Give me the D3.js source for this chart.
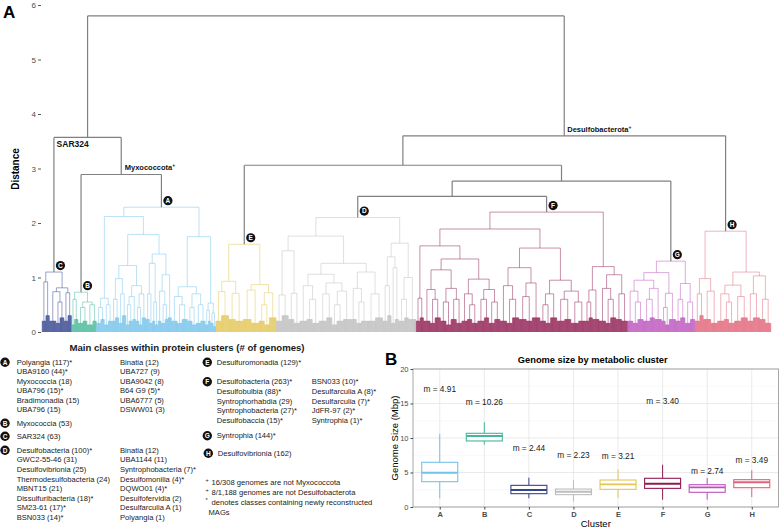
<!DOCTYPE html>
<html>
<head>
<meta charset="utf-8">
<script src="https://cdn.jsdelivr.net/npm/d3@7"></script>
<style>
  body { margin: 0; background: #fff; }
  svg { font-family: "Liberation Sans", Arial, sans-serif; }
</style>
</head>
<body>
<svg id="chart" width="779" height="528"></svg>
<script>
// ---------- data ----------
var clusters = ["A", "B", "C", "D", "E", "F", "G", "H"];
var clusterColors = ["#74c3ea", "#45b89a", "#34448f", "#bdbdbd", "#e3c556", "#8f1c51", "#bc52bd", "#e06478"];

// dendrogram. "(x,y)h" joins at height h,
// "n:h" is a clade of n genomes joined at height h, names point to other entries
var skeleton = "((C,(B,A)2.89)3.57,((E,((D,F)2.49,G)2.77)3.06,H)3.6)5.8";
var treeParts = {
  C: "((8:0.2,8:0.3)0.92,((14:0.2,(8:0.16,9:0.26)0.55)0.74,(8:0.2,8:0.3)0.72)0.81)1.1",
  B: "((6:0.13,8:0.23)0.6,((10:0.16,9:0.2)0.45,(12:0.13,8:0.2)0.5)0.55)0.73",
  A: "((AL1,(AL2a,AL2b)1.79)2.12,(AR1,AR2)1.75)2.29",
  AL1: "((9:0.16,8:0.23)0.45,(8:0.13,8:0.2)0.5)0.62",
  AL2a: "(((7:0.2,8:0.26)0.6,(7:0.16,8:0.3)0.7)0.98,(((6:0.13,8:0.2)0.5,7:0.23)0.65,((7:0.2,6:0.13)0.45,8:0.26)0.7)0.85)1.22",
  AL2b: "(((8:0.23,6:0.16)0.7,(6:0.2,6:0.13)0.55)1.26,((7:0.2,(8:0.16,6:0.23)0.5)0.75,8:0.26)1.05)1.43",
  AR1: "((12:0.2,(10:0.16,12:0.23)0.5)0.65,((10:0.2,8:0.13)0.45,(10:0.16,10:0.2)0.5)0.7)0.83",
  AR2: "((6:0.13,5:0.2)0.4,(6:0.16,5:0.1)0.35)0.53",
  E: "(((12:0.2,16:0.3)0.74,(14:0.23,16:0.2)0.71)0.93,((18:0.23,16:0.16)0.77,((12:0.2,10:0.13)0.5,15:0.26)0.72)0.87)1.61",
  D: "((DLa,(Db1,Db2)1.26)1.76,(Dr1,Dr2)1.63)2.1",
  DLa: "((12:0.2,14:0.3)0.68,(12:0.23,12:0.16)0.71)1.49",
  Db1: "((15:0.2,(12:0.23,14:0.16)0.6)0.85,((16:0.2,12:0.26)0.7,((10:0.13,14:0.2)0.5,14:0.23)0.75)0.9)1.06",
  Db2: "((14:0.23,(10:0.16,12:0.2)0.55)0.8,(18:0.2,16:0.26)0.7)1.1",
  Dr1: "((10:0.2,8:0.3)0.85,(8:0.16,8:0.23)1.18)1.38",
  Dr2: "((12:0.2,9:0.26)0.6,16:0.23)1.0",
  F: "(((Fa1,(Fa2a,Fa2b)1.34)1.58,(Fb1,Fb2)1.54)1.89,(Fr1,Fr2)1.2)2.2",
  Fa1: "(8:0.2,8:0.26)0.62",
  Fa2a: "((14:0.2,(10:0.16,12:0.26)0.6)0.78,((12:0.2,10:0.13)0.55,(12:0.23,11:0.16)0.6)0.8)1.14",
  Fa2b: "((12:0.2,(10:0.23,12:0.16)0.5)0.7,((14:0.2,10:0.26)0.6,(12:0.16,12:0.23)0.55)0.78)0.97",
  Fb1: "((14:0.2,(12:0.16,14:0.26)0.6)0.85,((16:0.23,12:0.2)0.65,17:0.26)0.9)1.18",
  Fb2: "(((12:0.2,10:0.16)0.5,14:0.26)0.7,((16:0.2,14:0.23)0.6,(16:0.16,14:0.2)0.55)0.75)0.95",
  Fr1: "((8:0.2,8:0.26)0.55,14:0.23)0.77",
  Fr2: "((14:0.2,(10:0.16,12:0.26)0.6)0.8,(12:0.23,12:0.2)0.7)1.05",
  G: "((((12:0.2,(10:0.16,12:0.23)0.55)0.75,((14:0.2,10:0.26)0.6,15:0.23)0.8)0.95,((8:0.2,8:0.13)0.45,14:0.23)0.71)1.09,((10:0.2,10:0.26)0.6,(11:0.16,10:0.23)0.55)0.89)1.3",
  H: "(((10:0.2,8:0.3)0.7,(16:0.23,14:0.16)0.75)0.98,(((14:0.2,(10:0.23,12:0.16)0.55)0.7,(14:0.2,14:0.26)0.65)0.86,((12:0.2,14:0.26)0.7,(12:0.23,12:0.16)0.6)1.03)1.1)1.85"
};
var distTicks = [0, 1, 2, 3, 4, 5, 6];

// legend of panel A
var legendTitle = "Main classes within protein clusters (# of genomes)";
var legendA = [["Polyangia (117)*", "UBA9160 (44)*", "Myxococcia (18)", "UBA796 (15)*", "Bradimonadia (15)", "UBA796 (15)"],
               ["Binatia (12)", "UBA727 (9)", "UBA9042 (8)", "B64 G9 (5)*", "UBA6777 (5)", "DSWW01 (3)"]];
var legendB = [["Myxococcia (53)"]];
var legendC = [["SAR324 (63)"]];
var legendD = [["Desulfobacteria (100)*", "GWC2-55-46 (31)", "Desulfovibrionia (25)", "Thermodesulfobacteria (24)", "MBNT15 (21)", "Dissulfuribacteria (18)*", "SM23-61 (17)*", "BSN033 (14)*"],
               ["Binatia (12)", "UBA1144 (11)", "Syntrophobacteria (7)*", "Desulfomonilia (4)*", "DQWO01 (4)*", "Desulfofervidia (2)", "Desulfarculia A (1)", "Polyangia (1)"]];
var legendE = [["Desulfuromonadia (129)*"]];
var legendF = [["Desulfobacteria (263)*", "Desulfobulbia (88)*", "Syntrophorhabdia (29)", "Syntrophobacteria (27)*", "Desulfobaccia (15)*"],
               ["BSN033 (10)*", "Desulfarculia A (8)*", "Desulfarculia (7)*", "JdFR-97 (2)*", "Syntrophia (1)*"]];
var legendG = [["Syntrophia (144)*"]];
var legendH = [["Desulfovibrionia (162)"]];
var footMarks = ["+", "+", "*", ""];
var footNotes = ["16/308 genomes are not Myxococcota", "8/1,188 genomes are not Desulfobacterota",
                 "denotes classes containing newly reconstructed", "MAGs"];

// panel B, genome size (Mbp)
var boxLow  = [1.26, 9.03, 1.26, 0.77, 1.35, 1.06, 1.06, 1.45];
var boxQ1   = [3.67, 9.57, 1.93, 1.79, 2.56, 2.70, 2.13, 2.80];
var boxMed  = [4.97, 10.29, 2.46, 2.22, 3.28, 3.38, 2.85, 3.58];
var boxQ3   = [6.48, 10.68, 3.14, 2.60, 3.91, 4.16, 3.23, 3.96];
var boxHigh = [10.58, 12.30, 4.25, 3.86, 5.46, 6.13, 4.20, 5.32];
var meanLabels = ["m = 4.91", "m = 10.26", "m = 2.44", "m = 2.23", "m = 3.21", "m = 3.40", "m = 2.74", "m = 3.49"];
var meanLabelY = [17.1, 15.2, 8.5, 7.5, 7.4, 15.4, 5.2, 6.8];
var sizeTicks = [0, 5, 10, 15, 20];
var sizeMinor = [2.5, 7.5, 12.5, 17.5];

// ---------- helpers ----------
var color = d3.scaleOrdinal().domain(clusters).range(clusterColors);
var svg = d3.select("#chart");

function parseTree(src) {
  var s = src.replace(/\s+/g, ""), i = 0;
  function num() { var m = /^[\d.]+/.exec(s.slice(i)); i += m[0].length; return +m[0]; }
  function node() {
    if (s[i] === "(") {
      i++;
      var kids = [node()];
      while (s[i] === ",") { i++; kids.push(node()); }
      i++;
      return { h: num(), children: kids };
    }
    var id = /^[A-Za-z]\w*/.exec(s.slice(i));
    if (id) {
      i += id[0].length;
      var sub = parseTree(treeParts[id[0]]);
      if (clusters.indexOf(id[0]) >= 0) sub.cluster = id[0];
      return sub;
    }
    var n = num(); i++; var h = num();
    return { h: h, children: d3.range(n).map(function () { return { h: 0 }; }) };
  }
  return node();
}

function badge(g, x, y, letter, r) {
  g.append("circle").attr("cx", x).attr("cy", y).attr("r", r || 4.6).attr("fill", "#111");
  g.append("text").attr("x", x).attr("y", y).attr("dy", "0.36em")
    .attr("text-anchor", "middle").attr("font-size", 6.5).attr("font-weight", "bold")
    .attr("fill", "#fff").text(letter);
}

// ---------- panel A: dendrogram ----------
var yD = d3.scaleLinear().domain([0, 6]).range([332, 5]);
var root = d3.hierarchy(parseTree(skeleton));
d3.cluster().size([729, 1]).separation(function () { return 1; })(root);
root.each(function (d) {
  d.px = 42 + d.x;
  d.py = yD(d.data.h);
  d.cl = d.data.cluster || (d.parent ? d.parent.cl : null);
});

var segs = [];
root.each(function (d) {
  if (!d.children) return;
  var xs = d.children.map(function (c) { return c.px; });
  segs.push({ x1: d3.min(xs), x2: d3.max(xs), y1: d.py, y2: d.py, cl: d.cl, leaf: false });
  d.children.forEach(function (c) {
    segs.push({ x1: c.px, x2: c.px, y1: d.py, y2: c.py, cl: d.cl, leaf: !c.children });
  });
});

var gDend = svg.append("g");
gDend.selectAll("line.cl")
  .data(segs.filter(function (s) { return s.cl; }))
  .enter().append("line")
  .attr("class", "cl")
  .attr("x1", function (s) { return s.x1; }).attr("x2", function (s) { return s.x2; })
  .attr("y1", function (s) { return s.y1; }).attr("y2", function (s) { return s.y2; })
  .attr("stroke", function (s) { return color(s.cl); })
  .attr("stroke-width", function (s) { return s.leaf ? 0.7 : 0.9; })
  .attr("stroke-opacity", function (s) { return s.leaf ? 0.85 : 0.55; });

gDend.selectAll("line.sk")
  .data(segs.filter(function (s) { return !s.cl; }))
  .enter().append("line")
  .attr("class", "sk")
  .attr("x1", function (s) { return s.x1; }).attr("x2", function (s) { return s.x2; })
  .attr("y1", function (s) { return s.y1; }).attr("y2", function (s) { return s.y2; })
  .attr("stroke", "#808080")
  .attr("stroke-width", 1.2);

// cluster badges
root.each(function (d) {
  if (d.data.cluster) badge(gDend, d.px + 6.5, d.py - 6.5, d.data.cluster);
});

// clade labels
function cladeLabel(node, dx, dy, name, size, plus) {
  var t = gDend.append("text").attr("x", node.px + dx).attr("y", node.py + dy)
    .attr("font-size", size).attr("font-weight", "bold").attr("fill", "#111").text(name);
  if (plus) t.append("tspan").attr("font-size", 5).attr("dy", -3).text("+");
}
var sarMyxo = root.children[0], myxo = sarMyxo.children[1], desulfo = root.children[1];
cladeLabel(sarMyxo, -31, 10, "SAR324", 8.5, false);
cladeLabel(myxo, 3.5, -4, "Myxococcota", 7.5, true);
cladeLabel(desulfo, 3, -3.5, "Desulfobacterota", 7.5, true);

// y axis
var axA = svg.append("g").attr("transform", "translate(41,0)")
  .call(d3.axisLeft(yD).tickValues(distTicks).tickSize(3).tickPadding(2).tickFormat(d3.format("d")));
axA.select(".domain").remove();
axA.selectAll("line").attr("stroke", "#555");
axA.selectAll("text").attr("font-size", 8).attr("fill", "#4d4d4d").attr("font-family", "Liberation Sans, Arial, sans-serif");

svg.append("text").attr("transform", "translate(19,169) rotate(-90)")
  .attr("text-anchor", "middle").attr("font-size", 10).attr("font-weight", "bold").text("Distance");
svg.append("text").attr("x", 3).attr("y", 18).attr("font-size", 17).attr("font-weight", "bold").text("A");

// ---------- legend ----------
var gLeg = svg.append("g").attr("font-size", 7.6).attr("fill", "#1a1a1a");
gLeg.append("text").attr("x", 187).attr("y", 350.5).attr("text-anchor", "middle")
  .attr("font-size", 9.6).attr("font-weight", "bold").text(legendTitle);

function legendBlock(letter, bx, by, cols, colX, lineH) {
  badge(gLeg, bx, by, letter, 4.7);
  cols.forEach(function (col, ci) {
    col.forEach(function (txt, li) {
      gLeg.append("text").attr("x", colX[ci]).attr("y", by + li * lineH).attr("dy", "0.35em").text(txt);
    });
  });
}
legendBlock("A", 5, 362.3, legendA, [16.7, 120], 9.5);
legendBlock("B", 5, 423.3, legendB, [16.7], 9.5);
legendBlock("C", 5, 436.3, legendC, [16.7], 9.5);
legendBlock("D", 5, 450.3, legendD, [16.7, 120], 9.52);
legendBlock("E", 207.3, 362.3, legendE, [216.7], 9.6);
legendBlock("F", 207.3, 381.7, legendF, [216.7, 311.7], 9.65);
legendBlock("G", 207.3, 435.7, legendG, [216.7], 9.6);
legendBlock("H", 208.3, 453.3, legendH, [217.7], 9.6);

footNotes.forEach(function (txt, i) {
  var y = 482.3 + i * 10;
  gLeg.append("text").attr("x", 205.5).attr("y", y - 2).attr("dy", "0.35em").attr("font-size", 5.5).text(footMarks[i]);
  gLeg.append("text").attr("x", i === 3 ? 208.5 : 211.5).attr("y", y).attr("dy", "0.35em").text(txt);
});

// ---------- panel B: boxplot ----------
var pL = 413, pR = 778.5, pT = 369, pB = 507;
var xB = d3.scalePoint().domain(clusters).range([pL, pR]).padding(0.6);
var yB = d3.scaleLinear().domain([0, 20]).range([pB, pT]);
var gB = svg.append("g");

gB.selectAll("line.minor").data(sizeMinor).enter().append("line")
  .attr("x1", pL).attr("x2", pR).attr("y1", yB).attr("y2", yB)
  .attr("stroke", "#f1f1f1").attr("stroke-width", 0.5);
gB.selectAll("line.major").data(sizeTicks).enter().append("line")
  .attr("x1", pL).attr("x2", pR).attr("y1", yB).attr("y2", yB)
  .attr("stroke", "#e4e4e4").attr("stroke-width", 0.8);
gB.selectAll("line.vgrid").data(clusters).enter().append("line")
  .attr("x1", xB).attr("x2", xB).attr("y1", pT).attr("y2", pB)
  .attr("stroke", "#e4e4e4").attr("stroke-width", 0.8);

var boxW = 36;
clusters.forEach(function (c, i) {
  var x = xB(c), col = color(c);
  gB.append("line").attr("x1", x).attr("x2", x).attr("y1", yB(boxHigh[i])).attr("y2", yB(boxQ3[i]))
    .attr("stroke", col).attr("stroke-width", 1);
  gB.append("line").attr("x1", x).attr("x2", x).attr("y1", yB(boxQ1[i])).attr("y2", yB(boxLow[i]))
    .attr("stroke", col).attr("stroke-width", 1);
  gB.append("rect").attr("x", x - boxW / 2).attr("width", boxW)
    .attr("y", yB(boxQ3[i])).attr("height", yB(boxQ1[i]) - yB(boxQ3[i]))
    .attr("fill", "#fff").attr("stroke", col).attr("stroke-width", 1.1);
  gB.append("line").attr("x1", x - boxW / 2).attr("x2", x + boxW / 2)
    .attr("y1", yB(boxMed[i])).attr("y2", yB(boxMed[i]))
    .attr("stroke", col).attr("stroke-width", 1.9);
  gB.append("text").attr("x", x).attr("y", yB(meanLabelY[i])).attr("dy", "0.35em")
    .attr("text-anchor", "middle").attr("font-size", 8.3).attr("fill", "#1a1a1a").text(meanLabels[i]);
});

gB.append("rect").attr("x", pL).attr("y", pT).attr("width", pR - pL).attr("height", pB - pT)
  .attr("fill", "none").attr("stroke", "#9e9e9e").attr("stroke-width", 0.9);

var axBy = gB.append("g").attr("transform", "translate(" + pL + ",0)")
  .call(d3.axisLeft(yB).tickValues(sizeTicks).tickSize(2.5).tickPadding(2));
axBy.select(".domain").remove();
axBy.selectAll("line").attr("stroke", "#444");
axBy.selectAll("text").attr("font-size", 7.5).attr("fill", "#4d4d4d").attr("font-family", "Liberation Sans, Arial, sans-serif");

var axBx = gB.append("g").attr("transform", "translate(0," + pB + ")")
  .call(d3.axisBottom(xB).tickSize(2.5).tickPadding(2));
axBx.select(".domain").remove();
axBx.selectAll("line").attr("stroke", "#444");
axBx.selectAll("text").attr("font-size", 7.5).attr("font-weight", "bold").attr("fill", "#4d4d4d")
  .attr("font-family", "Liberation Sans, Arial, sans-serif");

gB.append("text").attr("x", (pL + pR) / 2).attr("y", 526.5).attr("text-anchor", "middle")
  .attr("font-size", 9.5).text("Cluster");
gB.append("text").attr("transform", "translate(398," + ((pT + pB) / 2) + ") rotate(-90)")
  .attr("text-anchor", "middle").attr("font-size", 9.5).text("Genome Size (Mbp)");
gB.append("text").attr("x", (pL + pR) / 2 - 3).attr("y", 362.5).attr("text-anchor", "middle")
  .attr("font-size", 9.3).attr("font-weight", "bold").text("Genome size by metabolic cluster");
svg.append("text").attr("x", 385).attr("y", 365).attr("font-size", 17).attr("font-weight", "bold").text("B");
</script>
</body>
</html>
